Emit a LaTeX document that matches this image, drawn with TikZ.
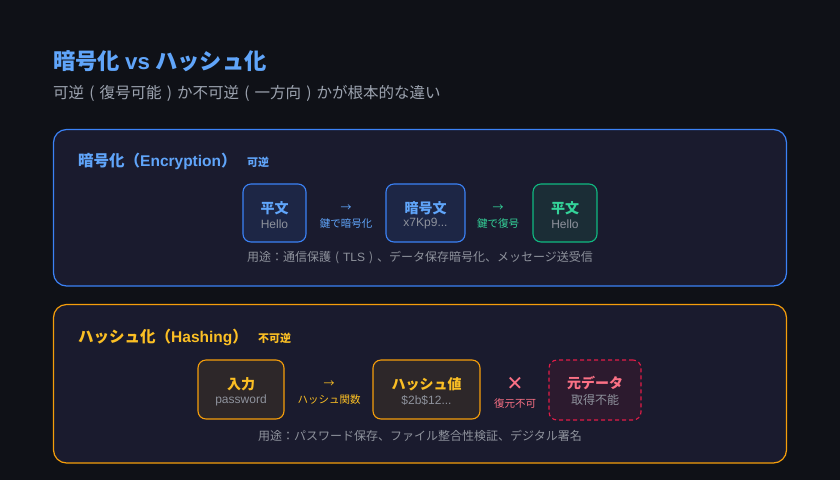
\documentclass[tikz,border=0pt]{standalone}
\usepackage{fontspec}
\setmainfont{Noto Sans CJK JP}
\newfontfamily\latf{Liberation Sans}
\newfontfamily\symf{DejaVu Sans}
\definecolor{bg}{HTML}{0F1117}
\definecolor{panel}{HTML}{1A1B2E}
\definecolor{blueA}{HTML}{60A5FA}
\definecolor{blueB}{HTML}{3B82F6}
\definecolor{greenA}{HTML}{34D399}
\definecolor{greenB}{HTML}{10B981}
\definecolor{orA}{HTML}{FBBF24}
\definecolor{orB}{HTML}{F59E0B}
\definecolor{redA}{HTML}{FB7185}
\definecolor{redB}{HTML}{E11D48}
\definecolor{grayT}{HTML}{9CA3AF}
\definecolor{grayS}{HTML}{8E929C}
\definecolor{fillBlue}{HTML}{1D2645}
\definecolor{fillGreen}{HTML}{1B2D36}
\definecolor{fillOr}{HTML}{2D2729}
\definecolor{fillRed}{HTML}{2C1A2E}
\newcommand{\fs}[1]{\fontsize{#1}{#1}\selectfont}
\newcommand{\lpar}{\makebox[1em]{(}}
\newcommand{\rpar}{\makebox[1em]{)}}
\begin{document}
\begin{tikzpicture}[x=1pt,y=-1pt,
  panelbox/.style={draw, line width=1.2pt, rounded corners=13pt, fill=panel},
  stepbox/.style={draw, line width=1.1pt, rounded corners=8pt, inner sep=0pt},
  maintxt/.style={font=\fs{14}\bfseries, inner sep=0pt, anchor=center},
  subtxt/.style={font=\fs{12}\latf, text=grayS, inner sep=0pt, anchor=center},
  arrtxt/.style={font=\fs{11}, inner sep=0pt, anchor=center},
  lbltxt/.style={font=\fs{10.5}, inner sep=0pt, anchor=center},
  usetxt/.style={font=\fs{12}, text=grayS, inner sep=0pt, anchor=center},
  headtxt/.style={font=\fs{15.5}\bfseries, inner sep=0pt, anchor=west},
  tagtxt/.style={font=\fs{11}\bfseries, inner sep=0pt, anchor=west}]
\fill[bg] (0,0) rectangle (840,480);
\useasboundingbox (0,0) rectangle (840,480);
% title
\node[font=\fs{22.3}\bfseries, text=blueA, inner sep=0pt, anchor=west] (title) at (53,61) {暗号化 {\latf vs} ハッシュ化};
\node[font=\fs{15.5}, text=grayT, inner sep=0pt, anchor=west] (subtitle) at (53,93) {可逆\lpar 復号可能\rpar か不可逆\lpar 一方向\rpar かが根本的な違い};
% encryption panel
\draw[panelbox, draw=blueB] (53.5,129.5) rectangle (786.5,286);
\node[headtxt, text=blueA] (ehead) at (78,161) {暗号化（{\latf Encryption}）};
\node[tagtxt, text=blueA] (etag) at (247,162) {可逆};
\node[stepbox, draw=blueB, fill=fillBlue, minimum width=63pt, minimum height=58pt] (e1) at (274.5,213) {};
\node[maintxt, text=blueA] (e1m) at (274.5,208) {平文};
\node[subtxt] (e1s) at (274.5,224) {Hello};
\node[arrtxt, text=blueA] (ea1) at (346,208) {→};
\node[lbltxt, text=blueA] (el1) at (346,224) {鍵で暗号化};
\node[stepbox, draw=blueB, fill=fillBlue, minimum width=79pt, minimum height=58pt] (e2) at (425.5,213) {};
\node[maintxt, text=blueA] (e2m) at (425.5,208) {暗号文};
\node[subtxt] (e2s) at (425.5,224) {x7Kp9...};
\node[arrtxt, text=greenA] (ea2) at (498,208) {→};
\node[lbltxt, text=greenA] (el2) at (498,224) {鍵で復号};
\node[stepbox, draw=greenB, fill=fillGreen, minimum width=64pt, minimum height=58pt] (e3) at (565,213) {};
\node[maintxt, text=greenA] (e3m) at (565,208) {平文};
\node[subtxt] (e3s) at (565,224) {Hello};
\node[usetxt] (euse) at (420,258) {用途：通信保護\lpar{\latf TLS}\rpar 、データ保存暗号化、メッセージ送受信};
% hashing panel
\draw[panelbox, draw=orB] (53.5,304.5) rectangle (786.5,463);
\node[headtxt, text=orA] (hhead) at (78,337) {ハッシュ化（{\latf Hashing}）};
\node[tagtxt, text=orA] (htag) at (258,338) {不可逆};
\node[stepbox, draw=orB, fill=fillOr, minimum width=86pt, minimum height=59pt] (h1) at (241,389.5) {};
\node[maintxt, text=orA] (h1m) at (241,384) {入力};
\node[subtxt] (h1s) at (241,400) {password};
\node[arrtxt, text=orA] (ha1) at (329,384) {→};
\node[lbltxt, text=orA] (hl1) at (329,400) {ハッシュ関数};
\node[stepbox, draw=orB, fill=fillOr, minimum width=107pt, minimum height=59pt] (h2) at (426.5,389.5) {};
\node[maintxt, text=orA] (h2m) at (426.5,384) {ハッシュ値};
\node[subtxt] (h2s) at (426.5,400) {\$2b\$12...};
\node[font=\fs{20}\symf\bfseries, text=redA, inner sep=0pt] (hx) at (515,384) {✕};
\node[lbltxt, text=redA] (hl2) at (515,404) {復元不可};
\node[stepbox, draw=redB, fill=fillRed, dashed, dash pattern=on 4pt off 3pt, minimum width=92pt, minimum height=60pt] (h3) at (595,390) {};
\node[maintxt, text=redA] (h3m) at (595,383) {元データ};
\node[font=\fs{12}, text=grayS, inner sep=0pt] (h3s) at (595,400) {取得不能};
\node[usetxt] (huse) at (420,436) {用途：パスワード保存、ファイル整合性検証、デジタル署名};
\end{tikzpicture}
\end{document}
